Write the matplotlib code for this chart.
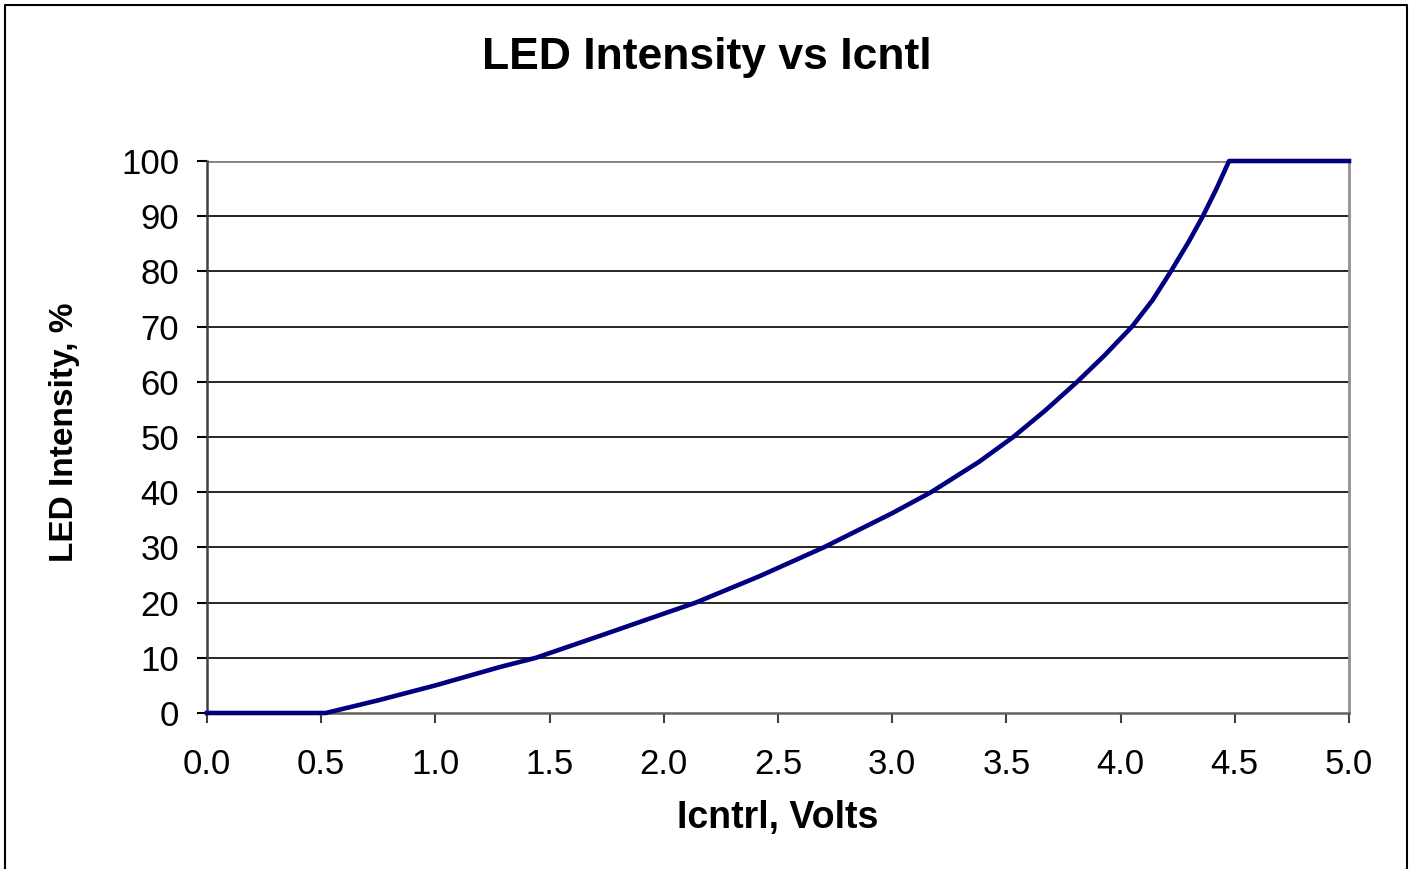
import matplotlib
matplotlib.use("Agg")
import matplotlib.pyplot as plt
from matplotlib.lines import Line2D

plt.rcParams['font.family'] = ['Liberation Sans', 'DejaVu Sans']

# curve
volts = [0.0, 0.52, 0.75, 1.0, 1.28, 1.44, 1.75, 2.0, 2.14, 2.42, 2.70, 3.0, 3.17,
         3.38, 3.53, 3.67, 3.81, 3.93, 4.05, 4.14, 4.22, 4.30, 4.36, 4.42, 4.475, 5.0]
intensity = [0.0, 0.0, 2.3, 5.0, 8.3, 10.0, 14.4, 18.0, 20.0, 24.8, 30.0, 36.2, 40.0,
             45.5, 50.0, 54.8, 60.0, 64.8, 70.0, 74.8, 80.0, 85.5, 90.0, 95.0, 100.0, 100.0]
xticks = [0.0, 0.5, 1.0, 1.5, 2.0, 2.5, 3.0, 3.5, 4.0, 4.5, 5.0]
yticks = [0, 10, 20, 30, 40, 50, 60, 70, 80, 90, 100]

fig = plt.figure(figsize=(14.14, 8.69), dpi=100)
ax = fig.add_axes([207/1414, 1-713/869, (1349-207)/1414, (713-161)/869])

# gridlines
for v in yticks[1:-1]:
    ax.axhline(v, color='black', lw=1.2, zorder=1)
ax.axhline(100, color='#808080', lw=2, zorder=1)

ax.plot(volts, intensity, color='#000080', lw=3.3, zorder=3, clip_on=False,
        solid_joinstyle='round')

ax.set_xlim(0, 5)
ax.set_ylim(0, 100)
ax.set_xticks(xticks)
ax.set_xticklabels([f"{t:.1f}" for t in xticks])
ax.set_yticks(yticks)

ax.spines['top'].set_visible(False)
ax.spines['left'].set_color('#404040')
ax.spines['left'].set_linewidth(1.8)
ax.spines['bottom'].set_color('#606060')
ax.spines['bottom'].set_linewidth(1.8)
ax.spines['right'].set_color('#909090')
ax.spines['right'].set_linewidth(2)

ax.tick_params(axis='x', direction='out', length=7, width=1.5, color='#404040',
               labelsize=25, pad=18)
ax.tick_params(axis='y', direction='out', length=7, width=1.5, color='black',
               labelsize=25, pad=13)

fig.text(707/1414, 1 - 57/869, "LED Intensity vs Icntl",
         ha='center', va='center', fontsize=32, fontweight='bold')
fig.text(778/1414, 1 - 818/869, "Icntrl, Volts", ha='center', va='center',
         fontsize=27, fontweight='bold')
fig.text(65/1414, 1 - 432/869, "LED Intensity, %", ha='center', va='center',
         rotation=90, fontsize=24, fontweight='bold')

# outer chart border (bottom edge is off the picture)
bx0, bx1, by1 = 5/1414, 1407/1414, 1 - 5/869
fig.add_artist(Line2D([bx0, bx0, bx1, bx1], [0, by1, by1, 0],
                      transform=fig.transFigure, color='black', lw=1.5))

fig.savefig("out.png", dpi=100)
